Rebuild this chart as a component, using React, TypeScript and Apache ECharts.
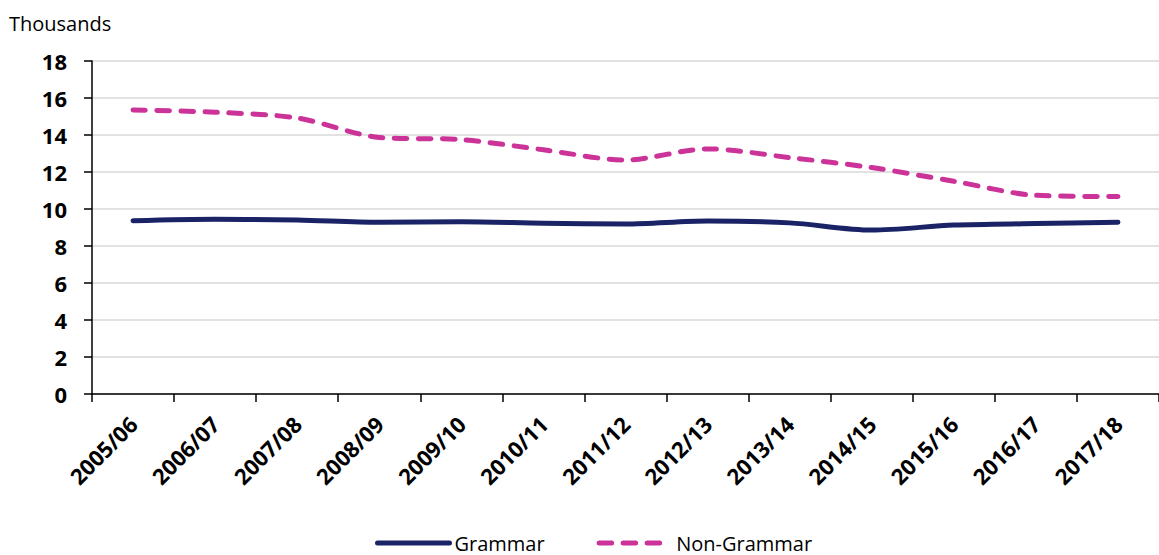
import React, { useEffect, useRef } from "react";
import * as echarts from "echarts";

const categories = ["2005/06","2006/07","2007/08","2008/09","2009/10","2010/11","2011/12","2012/13","2013/14","2014/15","2015/16","2016/17","2017/18"];
const grammar = [9.37, 9.45, 9.4, 9.28, 9.31, 9.23, 9.19, 9.35, 9.25, 8.86, 9.13, 9.21, 9.28];
const nonGrammar = [15.35, 15.23, 14.92, 13.87, 13.75, 13.2, 12.65, 13.25, 12.78, 12.24, 11.5, 10.74, 10.67];
const yTicks = { min: 0, max: 18, interval: 2 };

const FONT = "'Open Sans', Lato, sans-serif";

export default function App() {
  const ref = useRef<HTMLDivElement>(null);
  useEffect(() => {
    document.body.style.margin = "0";
    if (!ref.current) return;
    const chart = echarts.init(ref.current, null, { renderer: "svg" });
    chart.setOption({
      animation: false,
      textStyle: { fontFamily: FONT },
      title: {
        text: "Thousands",
        left: 4,
        top: 8,
        textStyle: { fontSize: 20, fontWeight: "normal", color: "#000", fontFamily: FONT },
      },
      grid: { left: 92, right: -7, top: 61, bottom: 161, containLabel: false },
      legend: {
        top: 533,
        left: 375,
        padding: 0,
        itemWidth: 72,
        itemHeight: 10,
        itemGap: 52,
        itemStyle: { opacity: 0 },
        lineStyle: { width: 5, cap: "round" },
        textStyle: { fontSize: 20, lineHeight: 20, color: "#000", fontFamily: FONT },
        data: ["Grammar", "Non-Grammar"],
      },
      xAxis: {
        type: "category",
        data: categories,
        boundaryGap: true,
        axisLine: { lineStyle: { color: "#000", width: 1.5 } },
        axisTick: { show: true, length: 8, lineStyle: { color: "#000", width: 1.5 } },
        axisLabel: {
          rotate: 45,
          fontSize: 22,
          fontWeight: "bold",
          color: "#000",
          margin: 26,
          fontFamily: FONT,
        },
      },
      yAxis: {
        type: "value",
        min: yTicks.min,
        max: yTicks.max,
        interval: yTicks.interval,
        axisLine: { show: true, lineStyle: { color: "#000", width: 1.5 } },
        axisTick: { show: true, length: 8, lineStyle: { color: "#000", width: 1.5 } },
        axisLabel: { fontSize: 22, fontWeight: "bold", color: "#000", margin: 25, fontFamily: FONT },
        splitLine: { show: true, lineStyle: { color: "#d9d9d9", width: 1.5 } },
      },
      series: [
        {
          name: "Grammar",
          type: "line",
          data: grammar,
          smooth: 0.3,
          symbol: "none",
          lineStyle: { color: "#1a2366", width: 5, cap: "round", join: "round" },
          itemStyle: { color: "#1a2366" },
        },
        {
          name: "Non-Grammar",
          type: "line",
          data: nonGrammar,
          smooth: 0.3,
          symbol: "none",
          lineStyle: { color: "#cc3399", width: 5, type: [12.5, 11.5], cap: "round", join: "round" },
          itemStyle: { color: "#cc3399" },
        },
      ],
    });
    return () => chart.dispose();
  }, []);
  return <div ref={ref} style={{ width: 1159, height: 555 }} />;
}
